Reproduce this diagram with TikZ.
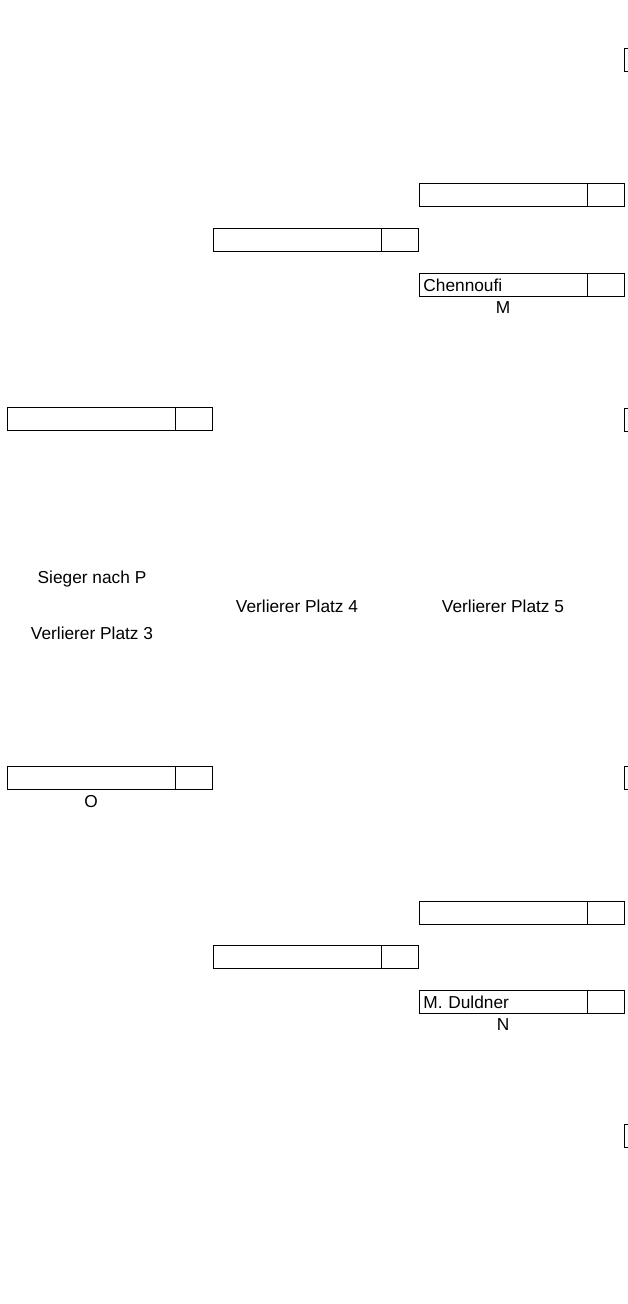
\documentclass[tikz,border=0pt]{standalone}
\usepackage{fontspec}
\setmainfont{Liberation Sans}
\begin{document}
\begin{tikzpicture}[x=1pt, y=-1pt,
      P/.style={draw, line width=0.8pt, minimum height=23pt, inner ysep=0pt, inner xsep=4pt, text width=159.5pt, align=left, anchor=north west, font=\fontsize{17.3}{20}\selectfont},
      S/.style={draw, line width=0.8pt, minimum width=37pt, minimum height=23pt, inner sep=0pt, anchor=north west},
      T/.style={inner sep=0pt, font=\fontsize{17.3}{20}\selectfont},
      every label/.style={inner sep=0pt, font=\fontsize{17.3}{20}\selectfont}
    ]
    \useasboundingbox (0,0) rectangle (628,1304);
    \draw (624,48) node [P] (r0) {};
    \draw (419,183) node [P] (a1) {};
    \draw (a1.north east) node [S] (a1s) {};
    \draw (213,228) node [P] (b1) {};
    \draw (b1.north east) node [S] (b1s) {};
    \draw (419,273) node [P, label={[label distance=5pt]south:M}] (a2) {Chennoufi};
    \draw (a2.north east) node [S] (a2s) {};
    \draw (7,407) node [P] (c1) {};
    \draw (c1.north east) node [S] (c1s) {};
    \draw (624,408) node [P] (r1) {};
    \draw (92,579) node [T] (sieger) {Sieger nach P};
    \draw (92,633) node [T] (platz3) {Verlierer Platz 3};
    \draw (297,606) node [T] (platz4) {Verlierer Platz 4};
    \draw (503,606) node [T] (platz5) {Verlierer Platz 5};
    \draw (7,766) node [P, label={[label distance=5pt]south:O}] (c2) {};
    \draw (c2.north east) node [S] (c2s) {};
    \draw (624,766) node [P] (r2) {};
    \draw (419,901) node [P] (a3) {};
    \draw (a3.north east) node [S] (a3s) {};
    \draw (213,945) node [P] (b2) {};
    \draw (b2.north east) node [S] (b2s) {};
    \draw (419,990) node [P, label={[label distance=5pt]south:N}] (a4) {M. Duldner};
    \draw (a4.north east) node [S] (a4s) {};
    \draw (624,1124) node [P] (r3) {};
  \end{tikzpicture}
\end{document}
